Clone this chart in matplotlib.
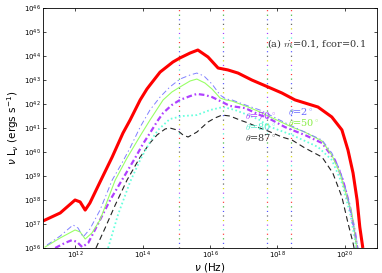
import numpy as np
import matplotlib
matplotlib.use('Agg')
import matplotlib.pyplot as plt

# log10(nu) and log10(nu L_nu)
red_x = [11.05, 11.56, 12.00, 12.15, 12.30, 12.44, 12.74, 13.10, 13.42, 13.63, 13.93, 14.13,
         14.22, 14.52, 14.90, 15.11, 15.41, 15.64, 15.94, 16.24, 16.53, 16.83, 17.24, 17.72,
         18.13, 18.52, 19.20, 19.61, 19.91, 20.09, 20.24, 20.36, 20.44, 20.53]
red_y = [37.125, 37.46, 38.0, 37.92, 37.58, 37.875, 38.75, 39.79, 40.79, 41.33, 42.17, 42.625,
         42.79, 43.33, 43.75, 43.92, 44.125, 44.25, 43.96, 43.5, 43.42, 43.29, 43.0, 42.71,
         42.46, 42.17, 41.875, 41.46, 40.92, 40.08, 39.125, 38.0, 36.875, 36.0]

t2_x = [11.17, 11.56, 11.94, 12.09, 12.24, 12.44, 12.74, 13.10, 13.39, 13.63, 13.93, 14.22,
        14.52, 14.81, 15.11, 15.41, 15.61, 15.82, 16.06, 16.30, 16.47, 16.65, 17.13, 17.48,
        17.72, 18.07, 18.43, 18.81, 19.32, 19.61, 19.85, 20.06, 20.21, 20.36, 20.39]
t2_y = [36.125, 36.5, 36.96, 36.83, 36.46, 36.79, 37.58, 38.83, 39.54, 40.17, 41.04, 41.75,
        42.29, 42.71, 43.04, 43.21, 43.29, 43.17, 42.83, 42.375, 42.21, 42.17, 41.92, 41.75,
        41.58, 41.33, 41.08, 40.83, 40.5, 39.96, 39.25, 38.29, 37.29, 36.21, 36.0]

t50_x = [11.11, 11.56, 12.00, 12.15, 12.30, 12.50, 12.74, 13.19, 13.54, 13.93, 14.22, 14.61,
         14.87, 15.11, 15.41, 15.61, 15.85, 16.06, 16.30, 16.47, 16.65, 17.13, 17.48, 17.72,
         18.43, 18.81, 19.32, 19.61, 19.85, 20.06, 20.21, 20.36]
t50_y = [36.04, 36.42, 36.75, 36.67, 36.375, 36.625, 37.17, 38.83, 39.75, 40.67, 41.33, 42.17,
         42.5, 42.71, 42.96, 43.04, 42.875, 42.625, 42.25, 42.17, 42.125, 41.875, 41.67, 41.5,
         41.04, 40.83, 40.46, 39.875, 39.125, 38.125, 37.42, 35.92]

t70_x = [11.41, 11.70, 11.91, 12.06, 12.21, 12.39, 12.74, 13.04, 13.39, 13.78, 14.01, 14.22,
         14.46, 14.61, 14.87, 15.11, 15.41, 15.61, 15.85, 16.06, 16.30, 16.59, 17.04, 17.48,
         17.72, 18.22, 18.43, 18.81, 19.32, 19.70, 19.94, 20.15, 20.30, 20.36]
t70_y = [36.0, 36.21, 36.33, 36.25, 36.04, 36.21, 37.17, 38.0, 38.83, 39.75, 40.33, 40.79,
         41.33, 41.625, 41.96, 42.17, 42.33, 42.42, 42.375, 42.29, 42.125, 41.92, 41.83, 41.54,
         41.42, 41.04, 40.92, 40.71, 40.375, 39.67, 38.83, 37.71, 36.625, 36.0]

t80_x = [12.98, 13.27, 13.63, 13.93, 14.22, 14.46, 14.81, 15.20, 15.61, 16.00, 16.39, 16.74,
         17.13, 17.48, 17.72, 18.43, 19.20, 19.61, 19.91, 20.15, 20.30, 20.33]
t80_y = [36.0, 37.375, 38.75, 39.67, 40.42, 40.92, 41.375, 41.5, 41.54, 41.75, 41.875, 41.75,
         41.54, 41.33, 41.08, 40.71, 40.21, 39.67, 38.71, 37.46, 36.33, 36.0]

t87_x = [12.62, 12.89, 13.19, 13.54, 13.93, 14.22, 14.43, 14.67, 14.81, 15.02, 15.20, 15.35,
         15.61, 15.94, 16.15, 16.36, 16.59, 16.89, 17.13, 17.48, 17.72, 18.13, 18.43, 18.81,
         19.32, 19.64, 19.91, 20.09, 20.24, 20.27]
t87_y = [36.0, 36.83, 37.79, 38.83, 39.79, 40.375, 40.71, 40.96, 41.0, 40.92, 40.71, 40.625,
         40.83, 41.25, 41.42, 41.54, 41.5, 41.33, 41.21, 41.0, 40.875, 40.625, 40.5, 40.17,
         39.79, 39.125, 38.125, 37.04, 36.21, 36.0]

# vertical marker frequencies (log10 Hz)
vlines = [15.09, 16.39, 17.68, 18.39]
vcols = ['#555555', '#d8d800', '#a040ff', '#40f0d0', '#ff3030', '#30b030', '#5050ff']

plt.rcParams['lines.scale_dashes'] = False

fig = plt.figure(figsize=(3.82, 2.73), dpi=100)
ax = fig.add_axes([0.1126, 0.0916, 0.8743, 0.879])

# multi-coloured dotted lines
per = 23.0
for xv in vlines:
    for k, c in enumerate(vcols):
        ax.axvline(10**xv, color=c, lw=0.9, ls=(k * per / 7, (0.8, per - 0.8)), zorder=1)

def p(x, y):
    return 10**np.array(x), 10**np.array(y)

ax.plot(*p(t87_x, t87_y), color='#222222', lw=0.8, ls=(0, (4, 2.5)))
ax.plot(*p(t80_x, t80_y), color='#66ffdd', lw=1.3, ls=(0, (1.2, 1.8)))
ax.plot(*p(t70_x, t70_y), color='#b040ff', lw=1.6, ls=(0, (4, 2, 1.2, 2)))
ax.plot(*p(t50_x, t50_y), color='#99ff66', lw=0.8, ls='-')
ax.plot(*p(t2_x, t2_y), color='#8080ff', lw=0.7, ls=(0, (4, 2, 1, 2)))
ax.plot(*p(red_x, red_y), color='red', lw=2.2, solid_capstyle='butt')

ax.set_xscale('log')
ax.set_yscale('log')
ax.set_xlim(10**11.05, 10**20.95)
ax.set_ylim(1e36, 1e46)
ax.set_xticks([1e12, 1e14, 1e16, 1e18, 1e20])
ax.set_yticks([10.0**k for k in range(36, 47)])
ax.minorticks_off()
ax.tick_params(which='both', direction='in', top=True, right=True, labelsize=5,
               length=2.5, width=0.5, pad=1.5)
for s in ax.spines.values():
    s.set_linewidth(0.6)

ax.set_xlabel(r'$\nu$ (Hz)', fontsize=7.5, labelpad=0, math_fontfamily='dejavusans')
ax.set_ylabel(r'$\nu$ L$_\nu$ (ergs s$^{-1}$)', fontsize=7.5, labelpad=2,
              math_fontfamily='dejavusans')

tk = dict(family='serif', math_fontfamily='cm', fontsize=7, zorder=5)
ax.text(10**17.69, 10**44.5, r'(a) $\dot{m}$=0.1, fcor=0.1', va='center', ha='left',
        color='#333333', **tk)
ax.text(10**18.31, 10**41.67, r'$\theta$=2$^\circ$', color='#6a6aff', va='center', **tk)
ax.text(10**18.31, 10**41.25, r'$\theta$=50$^\circ$', color='#88ee44', va='center', **tk)
ax.text(10**17.04, 10**41.54, r'$\theta$=70$^\circ$', color='#b040ff', va='center', **tk)
ax.text(10**17.04, 10**41.08, r'$\theta$=80$^\circ$', color='#55eecc', va='center', **tk)
ax.text(10**17.04, 10**40.625, r'$\theta$=87$^\circ$', color='#333333', va='center', **tk)

fig.savefig('out.png', dpi=100)
